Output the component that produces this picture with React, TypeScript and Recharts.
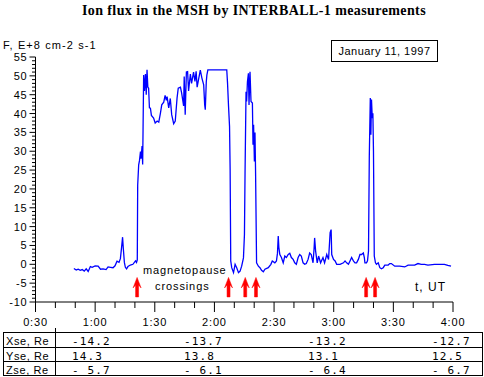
import React from 'react';
import { ComposedChart, Line, XAxis, YAxis, ReferenceDot } from 'recharts';

// time in minutes of day (UT)
const times = [
  49.3, 50.5, 51.5, 52.5, 53.5, 54.5, 55.5, 56.5, 57.6, 58.5,
  60, 61.5, 62.7, 64, 65.5, 66.5, 67.7, 69, 70, 71,
  72, 72.7, 73.3, 73.8, 74.2, 74.7, 75.2, 75.8, 76.5, 77.7,
  79, 80.3, 80.8, 81.2, 81.4, 81.9, 82.3, 82.8, 83.1, 83.6,
  83.9, 84.1, 84.4, 84.8, 85.3, 85.7, 86.1, 86.5, 86.9, 87.3,
  87.8, 88.3, 89.4, 90.2, 91.2, 92, 92.8, 93.5, 94.5, 95.2,
  95.8, 96.2, 97, 97.8, 98.5, 99.5, 100.3, 101.2, 101.8, 102.9,
  103.5, 104.5, 104.8, 105.3, 105.9, 106.5, 107, 107.9, 108.5, 109.5,
  110.2, 110.8, 111.3, 112, 112.9, 113.7, 114.6, 115.1, 115.4, 115.9,
  116.2, 116.7, 126.2, 126.6, 127.1, 127.6, 127.9, 128.2, 128.7, 129.6,
  130.4, 131.2, 132.1, 132.9, 133.7, 134.6, 135.1, 135.4, 135.9, 136.2,
  136.6, 137.1, 137.4, 137.9, 138.4, 139.1, 139.4, 139.7, 140.1, 140.4,
  140.7, 141.2, 142.1, 142.9, 143.7, 144.6, 145.4, 147.1, 148.4, 149.1,
  150.4, 151.2, 151.7, 152.1, 152.4, 152.9, 153.7, 154.6, 155.4, 156.2,
  157.1, 157.9, 158.7, 159.6, 160.4, 161.2, 162.1, 162.9, 163.7, 164.6,
  165.4, 166.2, 167.1, 167.9, 168.7, 169.6, 170.1, 170.4, 170.9, 171.7,
  172.4, 173.4, 174.6, 175.4, 176.5, 177.4, 178.2, 178.7, 179, 179.9,
  180.7, 181.5, 183.2, 184.9, 185.7, 186.5, 187.4, 188.2, 189, 189.9,
  190.7, 191.5, 192.4, 193.2, 194, 194.9, 195.4, 195.7, 196.5, 197,
  197.5, 197.9, 198.4, 198.7, 199, 199.4, 199.7, 200, 200.4, 201,
  201.5, 202.4, 203.2, 204, 204.9, 205.7, 207.4, 208.2, 209, 210.7,
  213.2, 215.7, 217.4, 220.7, 222.4, 224, 225.7, 227.4, 230.7, 235.7,
  237.4, 239,
];

// ion flux, E+8 cm-2 s-1
const flux = [
  -1.1, -1.5, -1.3, -1.6, -1.4, -1.8, -1.2, -1.9, -0.6, -0.8,
  -0.4, -0.5, -1.3, -1.2, -1.4, -0.7, -0.8, -0.9, -0.4, 0.8,
  0.5, 1.5, 4.5, 7.2, 4.0, 0.5, -0.8, -1.2, -0.6, -0.2,
  0, 0.9, 0.5, 1.2, 21, 26.4, 27.5, 29.9, 28, 31.4,
  26.5, 35.7, 50.2, 46, 50.5, 45, 51.6, 47, 46.7, 41.5,
  41.4, 39.5, 38.8, 37.5, 38, 37.7, 40, 42.3, 43, 44.8,
  43.5, 44.5, 41.5, 44, 39.7, 37.3, 38, 44.1, 46.7, 47,
  45.5, 42, 49.8, 39.7, 51, 51.1, 46, 50.5, 48, 51,
  48.5, 51.2, 47, 49, 51.5, 49.4, 47.6, 42.3, 41, 48.4,
  50.2, 51.6, 51.6, 48, 41.9, 36.6, 25.1, 0.9, -0.9, -2.2,
  0.0, -0.9, -2.2, -1.8, -0.5, 1.7, 7.9, 24.2, 45.8, 43.2,
  48.4, 50.7, 42.3, 51.1, 43.2, 42.8, 31.7, 37, 27.3, 35,
  24.2, 0.4, -0.5, -0.9, -1.6, -2.0, -1.3, -0.9, 0, 0.9,
  0.4, 0.9, 2.9, 7.5, 4.5, 2.6, 1.8, 0.4, 2.2, 1.8,
  2.6, 2.9, 1.8, 1.3, 0.4, 0, 1.8, 2.6, 2.2, 0.4,
  0, 0.2, 1.3, 3.0, 2.6, 0.4, 4.0, 7.0, 3.5, 0.4,
  2.2, 0.4, 1.8, 0.4, 2.6, 1.3, 8.4, 9.2, 2.6, 1.3,
  0.9, 0, 0, 0.4, 0.9, 0.4, 0, 0.9, 1.8, 0.9,
  0.4, 0.4, 1.3, 2.6, 2.6, 3.0, 1.8, 0.4, 0.4, 0.9,
  3.5, 28.6, 44.1, 34.4, 43.7, 38.8, 40.1, 30, 2.2, 0.4,
  0, 0.4, -0.9, -1.2, -0.9, -0.2, -0.2, 0.2, 0.2, -0.5,
  -0.5, -0.7, -0.2, -0.2, 0.2, 0, 0, -0.2, 0, 0,
  -0.3, -0.5,
];

// magnetopause crossing times (minutes UT)
const crossingTimes = [81.1, 127.1, 135.5, 140.9, 196.3, 200.8];
const arrowLevel = -6;

const xTicks = [30, 40, 50, 60, 70, 80, 90, 100, 110, 120, 130, 140, 150, 160, 170, 180, 190, 200, 210, 220, 230, 240];
const yTicks = Array.from({ length: 66 }, (_, i) => i - 10);

const tableLabels = ['Xse, Re', 'Yse, Re', 'Zse, Re'];
const xse = [-14.2, -13.7, -13.2, -12.7];
const yse = [14.3, 13.8, 13.1, 12.5];
const zse = [-5.7, -6.1, -6.4, -6.7];

const data = times.map((t, i) => ({ t, v: flux[i] }));

const SANS = '"Liberation Sans", Arial, sans-serif';

const fmtTime = (m: number) => `${Math.floor(m / 60)}:${String(m % 60).padStart(2, '0')}`;
const fmtCoord = (v: number) => {
  if (v < 0) return Math.abs(v) < 10 ? `- ${Math.abs(v).toFixed(1)}` : `-${Math.abs(v).toFixed(1)}`;
  return v.toFixed(1);
};

const XTick = (props: any) => {
  const { x, y, payload } = props;
  const v = payload.value as number;
  const major = v % 30 === 0;
  return (
    <g>
      <line x1={x} x2={x} y1={y} y2={y + (major ? 10 : 6)} stroke="#000" strokeWidth={1} />
      {major && (
        <text x={x} y={y + 24} textAnchor="middle" fontSize={11} fontFamily={SANS} letterSpacing={0.8} fill="#000">
          {fmtTime(v)}
        </text>
      )}
    </g>
  );
};

const YTick = (props: any) => {
  const { x, y, payload } = props;
  const v = payload.value as number;
  const major = v % 5 === 0;
  return (
    <g>
      <line x1={x - (major ? 6 : 3.5)} x2={x} y1={y} y2={y} stroke="#000" strokeWidth={1} />
      {major && (
        <text x={x - 8} y={y + 4} textAnchor="end" fontSize={11} fontFamily={SANS} letterSpacing={0.8} fill="#000">
          {v}
        </text>
      )}
    </g>
  );
};

const Arrow = (props: any) => {
  const { cx, cy } = props;
  const pts = [
    [0, -9.5], [4, 1], [1.5, -2], [1.5, 10], [-1.5, 10], [-1.5, -2], [-4, 1],
  ].map(([dx, dy]) => `${cx + dx},${cy + dy}`).join(' ');
  return <polygon points={pts} fill="#ff0000" stroke="#ff0000" strokeWidth={0.5} />;
};

const colX = [72, 184, 308, 432];
const rowTop = [332.5, 347.5, 361.5];
const rows = [xse, yse, zse];

export default function App() {
  return (
    <div style={{ position: 'absolute', left: 0, top: 0, width: 484, height: 377, background: '#fff' }}>
      <ComposedChart width={484} height={377} data={data} margin={{ top: 57, right: 31, bottom: 0, left: 0.5 }}>
        <XAxis
          dataKey="t"
          type="number"
          domain={[30, 240]}
          ticks={xTicks}
          interval={0}
          allowDataOverflow
          height={75}
          tickSize={0}
          tickMargin={0}
          tick={<XTick />}
          axisLine={{ stroke: '#000' }}
          tickLine={false}
        />
        <YAxis
          type="number"
          domain={[-10, 55]}
          ticks={yTicks}
          interval={0}
          allowDataOverflow
          width={35}
          tickSize={0}
          tickMargin={0}
          tick={<YTick />}
          axisLine={{ stroke: '#000' }}
          tickLine={false}
        />
        <Line
          dataKey="v"
          type="linear"
          stroke="#0000ff"
          strokeWidth={1.3}
          dot={false}
          isAnimationActive={false}
        />
        {crossingTimes.map((t, i) => (
          <ReferenceDot key={i} x={t} y={arrowLevel} r={5} shape={<Arrow />} />
        ))}
      </ComposedChart>
      <svg width={484} height={377} style={{ position: 'absolute', left: 0, top: 0, pointerEvents: 'none' }}>
        <text x={254} y={15} textAnchor="middle" fontFamily='"Liberation Serif", "Times New Roman", serif' fontWeight="bold" fontSize={14} letterSpacing={0.4} fill="#000">
          Ion flux in the MSH by INTERBALL-1 measurements
        </text>
        <text x={3} y={49} fontFamily={SANS} fontSize={11} letterSpacing={1.1} fill="#000">F, E+8 cm-2 s-1</text>
        <rect x={331.5} y={40.5} width={106} height={21} fill="#fff" stroke="#000" strokeWidth={1} />
        <text x={384.5} y={55} textAnchor="middle" fontFamily={SANS} fontSize={11} letterSpacing={0.5} fill="#000">January 11, 1997</text>
        <text x={143} y={274} fontFamily={SANS} fontSize={11} letterSpacing={0.9} fill="#000">magnetopause</text>
        <text x={155} y={290} fontFamily={SANS} fontSize={11} letterSpacing={0.9} fill="#000">crossings</text>
        <text x={415} y={291} fontFamily={SANS} fontSize={12} letterSpacing={1} fill="#000">t, UT</text>
        {/* table */}
        <rect x={3.5} y={332.5} width={479} height={43} fill="none" stroke="#000" strokeWidth={1} />
        <line x1={3.5} x2={482.5} y1={347.5} y2={347.5} stroke="#000" />
        <line x1={3.5} x2={482.5} y1={361.5} y2={361.5} stroke="#000" />
        <line x1={55.5} x2={55.5} y1={328} y2={375.5} stroke="#000" />
        {tableLabels.map((lab, r) => (
          <text key={lab} x={6} y={rowTop[r] + 12} fontFamily={SANS} fontSize={11} letterSpacing={0.6} fill="#000">{lab}</text>
        ))}
        {rows.map((row, r) =>
          row.map((v, c) => (
            <text key={`${r}-${c}`} x={colX[c]} y={rowTop[r] + 12} fontFamily='"DejaVu Sans Mono", "Liberation Mono", monospace' fontSize={11} letterSpacing={1.1} fill="#000" xmlSpace="preserve" style={{ whiteSpace: 'pre' }}>
              {fmtCoord(v)}
            </text>
          ))
        )}
      </svg>
    </div>
  );
}
